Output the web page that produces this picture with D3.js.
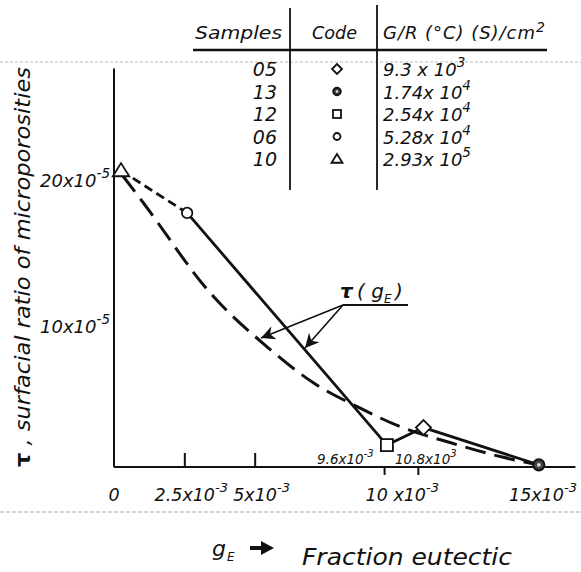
<!DOCTYPE html>
<meta charset="utf-8">
<body style="margin:0;background:#fff">
<script src="https://cdn.jsdelivr.net/npm/d3@7"></script>
<style>
svg { display:block; }
text { font-family: "DejaVu Sans", sans-serif; font-style: italic; fill: #111; }
</style>
<svg id="chart" width="581" height="572"></svg>
<script>
// table of samples (top right)
var samples  = ["05", "13", "12", "06", "10"];
var codes    = ["diamond", "dot", "square", "circle", "triangle"];
var grMant   = ["9.3 x 10", "1.74x 10", "2.54x 10", "5.28x 10", "2.93x 10"];
var grExp    = ["3", "4", "4", "4", "5"];

// measured points, gE in 1e-3, tau in 1e-5
var gE  = [11.0, 15.1, 9.7, 2.6, 0.25];
var tau = [2.7, 0.15, 1.5, 17.4, 20.3];
// order in which the measured line joins them
var pathOrder = ["10", "06", "12", "05", "13"];

// model curve tau(gE)
var curveX = [0.29, 1.04, 3.43, 5.46, 7.1, 8.68, 10.2, 12.0, 13.8, 15.1];
var curveY = [20.0, 18.1, 11.9, 8.2, 5.75, 4.1, 2.74, 1.64, 0.68, 0.14];

// axis ticks / labels
var xMajor = [2.5, 5];
var xMinor = [9.6, 10.8];
var xLabels = [[0, "0", ""], [2.5, "2.5x10", "-3"], [5, "5x10", "-3"], [10, "10 x10", "-3"], [15, "15x10", "-3"]];
var yLabels = [[20, "20x10", "-5"], [10, "10x10", "-5"]];
var minorLabels = [[9.6, "9.6x10", "-3"], [10.8, "10.8x10", "3"]];

var svg = d3.select("#chart");
var x = d3.scaleLinear().domain([0, 15]).range([114, 536]);
var y = d3.scaleLinear().domain([0, 20]).range([467, 175]);

function sci(g, px, py, base, exp, size, anchor) {
  var t = g.append("text").attr("x", px).attr("y", py)
    .attr("font-size", size).attr("text-anchor", anchor || "start");
  t.append("tspan").text(base);
  if (exp) t.append("tspan").attr("dy", -size * 0.5).attr("font-size", size * 0.75).text(exp);
  return t;
}

// faint scan lines
svg.append("line").attr("x1", 0).attr("x2", 581).attr("y1", 62).attr("y2", 62)
  .attr("stroke", "#bbb").attr("stroke-dasharray", "3 2").attr("stroke-width", 1);
svg.append("line").attr("x1", 0).attr("x2", 581).attr("y1", 512).attr("y2", 512)
  .attr("stroke", "#aaa").attr("stroke-dasharray", "4 2").attr("stroke-width", 1);

// axes lines
svg.append("line").attr("x1", x(0)).attr("x2", x(0)).attr("y1", y(27.3)).attr("y2", y(0))
  .attr("stroke", "#111").attr("stroke-width", 2);
svg.append("line").attr("x1", x(0)).attr("x2", x(16.4)).attr("y1", y(0)).attr("y2", y(0))
  .attr("stroke", "#111").attr("stroke-width", 2.2);

svg.append("g").attr("transform", "translate(0," + y(0) + ")")
  .call(d3.axisBottom(x).tickValues(xMajor).tickSize(-14).tickFormat(""));
svg.append("g").attr("transform", "translate(0," + y(0) + ")")
  .call(d3.axisBottom(x).tickValues(xMinor).tickSize(8).tickFormat(""));
svg.selectAll(".domain").remove();
svg.selectAll(".tick line").attr("stroke", "#111").attr("stroke-width", 2);

xLabels.forEach(function (d) {
  sci(svg, x(d[0]) + (d[0] ? 7 : 0), 501, d[1], d[2], 17.5, "middle");
});
yLabels.forEach(function (d) {
  sci(svg, 110, y(d[0]) + 12, d[1], d[2], 18, "end");
});
minorLabels.forEach(function (d, i) {
  sci(svg, i ? 395 : 317, 464, d[1], d[2], 13.5, "start");
});

// y label
var yl = svg.append("text").attr("transform", "translate(30,267) rotate(-90)")
  .attr("text-anchor", "middle").attr("font-size", 21)
  .attr("textLength", 400).attr("lengthAdjust", "spacingAndGlyphs");
yl.append("tspan").attr("font-weight", "bold").attr("font-style", "normal").text("τ");
yl.append("tspan").text(" , surfacial ratio of microporosities");

// x label
var xl = svg.append("g");
xl.append("text").attr("x", 212).attr("y", 556).attr("font-size", 22).text("g");
xl.append("text").attr("x", 227).attr("y", 561).attr("font-size", 12).text("E");
xl.append("path").attr("d", "M250,546 L261,546 L261,541 L274,548 L261,555 L261,550 L250,550 Z")
  .attr("fill", "#111");
xl.append("text").attr("x", 302).attr("y", 565).attr("font-size", 23)
  .attr("textLength", 210).attr("lengthAdjust", "spacingAndGlyphs").text("Fraction eutectic");

// model curve
svg.append("path")
  .datum(d3.zip(curveX, curveY))
  .attr("d", d3.line().x(function (d) { return x(d[0]); }).y(function (d) { return y(d[1]); })
    .curve(d3.curveMonotoneX))
  .attr("fill", "none").attr("stroke", "#111").attr("stroke-width", 3)
  .attr("stroke-dasharray", "21 9");

// measured line
var pts = pathOrder.map(function (s) { var i = samples.indexOf(s); return [gE[i], tau[i]]; });
var lineGen = d3.line().x(function (d) { return x(d[0]); }).y(function (d) { return y(d[1]); });
svg.append("path").datum(pts.slice(0, 2)).attr("d", lineGen)
  .attr("fill", "none").attr("stroke", "#111").attr("stroke-width", 2.8).attr("stroke-dasharray", "9 5");
svg.append("path").datum(pts.slice(1)).attr("d", lineGen)
  .attr("fill", "none").attr("stroke", "#111").attr("stroke-width", 2.8);

// symbols
function drawSymbol(g, code, cx, cy, s) {
  var el;
  if (code === "diamond") {
    el = g.append("path").attr("d", "M0," + (-s) + "L" + s + ",0L0," + s + "L" + (-s) + ",0Z");
  } else if (code === "square") {
    el = g.append("rect").attr("x", -s * 0.8).attr("y", -s * 0.8).attr("width", s * 1.6).attr("height", s * 1.6);
  } else if (code === "triangle") {
    el = g.append("path").attr("d", "M0," + (-s) + "L" + (s * 1.1) + "," + (s * 0.75) + "L" + (-s * 1.1) + "," + (s * 0.75) + "Z");
  } else if (code === "dot") {
    g.append("circle").attr("cx", cx).attr("cy", cy).attr("r", s * 0.75)
      .attr("fill", "#444").attr("stroke", "#111").attr("stroke-width", 2);
    g.append("circle").attr("cx", cx).attr("cy", cy).attr("r", s * 0.25).attr("fill", "#ddd");
    return;
  } else {
    el = g.append("circle").attr("r", s * 0.7);
  }
  el.attr("transform", "translate(" + cx + "," + cy + ")")
    .attr("fill", "#fff").attr("stroke", "#111").attr("stroke-width", 1.8);
}
var symG = svg.append("g");
samples.forEach(function (s, i) {
  drawSymbol(symG, codes[i], x(gE[i]), y(tau[i]), 7.5);
});

// tau(gE) annotation
var ann = svg.append("g");
ann.append("text").attr("x", 340).attr("y", 298).attr("font-size", 20)
  .attr("font-style", "normal").attr("font-weight", "bold").text("τ");
ann.append("text").attr("x", 357).attr("y", 298).attr("font-size", 20).text("( g");
ann.append("text").attr("x", 384).attr("y", 303).attr("font-size", 12).text("E");
ann.append("text").attr("x", 395).attr("y", 298).attr("font-size", 20).text(")");
ann.append("line").attr("x1", 343).attr("x2", 408).attr("y1", 305).attr("y2", 305)
  .attr("stroke", "#111").attr("stroke-width", 1.8);
svg.append("defs").append("marker").attr("id", "ah").attr("viewBox", "0 0 10 10")
  .attr("refX", 10).attr("refY", 5).attr("markerWidth", 17).attr("markerHeight", 14)
  .attr("markerUnits", "userSpaceOnUse").attr("orient", "auto")
  .append("path").attr("d", "M0,0L10,5L0,10L3,5Z").attr("fill", "#111");
[[261, 338], [305, 348]].forEach(function (t) {
  ann.append("line").attr("x1", 343).attr("y1", 305).attr("x2", t[0]).attr("y2", t[1])
    .attr("stroke", "#111").attr("stroke-width", 1.6).attr("marker-end", "url(#ah)");
});

// table
var tab = svg.append("g");
tab.append("line").attr("x1", 193).attr("x2", 547).attr("y1", 50).attr("y2", 50)
  .attr("stroke", "#111").attr("stroke-width", 2.5);
[[290, 8], [377, 5]].forEach(function (v) {
  tab.append("line").attr("x1", v[0]).attr("x2", v[0]).attr("y1", v[1]).attr("y2", 190)
    .attr("stroke", "#111").attr("stroke-width", 1.8);
});
tab.append("text").attr("x", 195).attr("y", 39).attr("font-size", 18)
  .attr("textLength", 87).attr("lengthAdjust", "spacingAndGlyphs").text("Samples");
tab.append("text").attr("x", 312).attr("y", 39).attr("font-size", 18)
  .attr("textLength", 45).attr("lengthAdjust", "spacingAndGlyphs").text("Code");
var hd = tab.append("text").attr("x", 383).attr("y", 39).attr("font-size", 18);
hd.append("tspan").attr("textLength", 152).attr("lengthAdjust", "spacing").text("G/R (°C) (S)/cm");
hd.append("tspan").attr("dy", -7).attr("font-size", 14).text("2");
samples.forEach(function (s, i) {
  var cy = 69 + i * 22.5;
  tab.append("text").attr("x", 277).attr("y", cy + 7).attr("font-size", 19)
    .attr("text-anchor", "end").text(s);
  drawSymbol(tab, codes[i], 337, cy, 5);
  sci(tab, 383, cy + 7, grMant[i], grExp[i], 18, "start");
});
</script>
</body>
